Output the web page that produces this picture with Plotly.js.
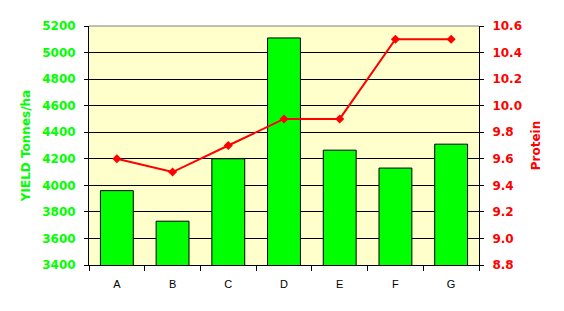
<!DOCTYPE html>
<html><head><meta charset="utf-8">
<script src="https://cdn.plot.ly/plotly-3.0.1.min.js"></script>
<style>body{margin:0;background:#fff}#chart{width:564px;height:311px}</style>
</head><body><div id="chart"></div>
<script>
const categories = ["A","B","C","D","E","F","G"];
const yieldValues = [3960, 3730, 4200, 5110, 4265, 4130, 4310];
const proteinValues = [9.6, 9.5, 9.7, 9.9, 9.9, 10.5, 10.5];
const yieldTicks = [3400,3600,3800,4000,4200,4400,4600,4800,5000,5200];
const proteinTicks = [8.8,9.0,9.2,9.4,9.6,9.8,10.0,10.2,10.4,10.6];

const font = "DejaVu Sans, Verdana, sans-serif";
const data = [
  {type:"bar", x:categories, y:yieldValues, marker:{color:"#00FF00", line:{color:"#000", width:1}}, yaxis:"y", hoverinfo:"skip"},
  {type:"scatter", mode:"lines+markers", x:categories, y:proteinValues, yaxis:"y2",
   line:{color:"#FF0000", width:2}, marker:{symbol:"diamond", size:7, color:"#FF0000"}}
];
const layout = {
  width:564, height:311, showlegend:false, bargap:0.41,
  margin:{l:89, r:85, t:26, b:46, pad:0},
  paper_bgcolor:"#FFFFFF", plot_bgcolor:"#FFFFCC",
  xaxis:{tickson:"boundaries", ticks:"outside", ticklen:5, tickcolor:"#000", showline:true, linecolor:"#000", linewidth:1,
    showgrid:false, ticklabelstandoff:9, tickfont:{family:"Liberation Sans, Arial, sans-serif", size:11, color:"#000"}, mirror:false},
  yaxis:{range:[3400,5200], tickvals:yieldTicks, ticktext:yieldTicks.map(String), ticks:"outside", ticklen:4, tickcolor:"#000",
    showline:true, linecolor:"#000", linewidth:1, showgrid:true, gridcolor:"#000", gridwidth:1, zeroline:false,
    ticklabelstandoff:6,
    tickfont:{family:font, size:12, color:"#00FF00", weight:"bold"},
    title:{text:"<b>YIELD Tonnes/ha</b>", font:{family:font, size:12, color:"#00FF00"}, standoff:8}},
  yaxis2:{range:[8.8,10.6], overlaying:"y", side:"right", tickvals:proteinTicks, ticktext:proteinTicks.map(v=>v.toFixed(1)),
    ticks:"outside", ticklen:4, tickcolor:"#000", showline:true, linecolor:"#000", linewidth:1, showgrid:false, zeroline:false,
    ticklabelstandoff:6,
    tickfont:{family:font, size:12, color:"#FF0000", weight:"bold"},
    title:{text:"<b>Protein</b>", font:{family:font, size:12, color:"#FF0000"}, standoff:10}},
  shapes:[{type:"line", xref:"paper", yref:"paper", x0:0, x1:1, y0:1, y1:1, line:{color:"#808080", width:1}}]
};
Plotly.newPlot("chart", data, layout, {displayModeBar:false, staticPlot:true});
</script></body></html>
